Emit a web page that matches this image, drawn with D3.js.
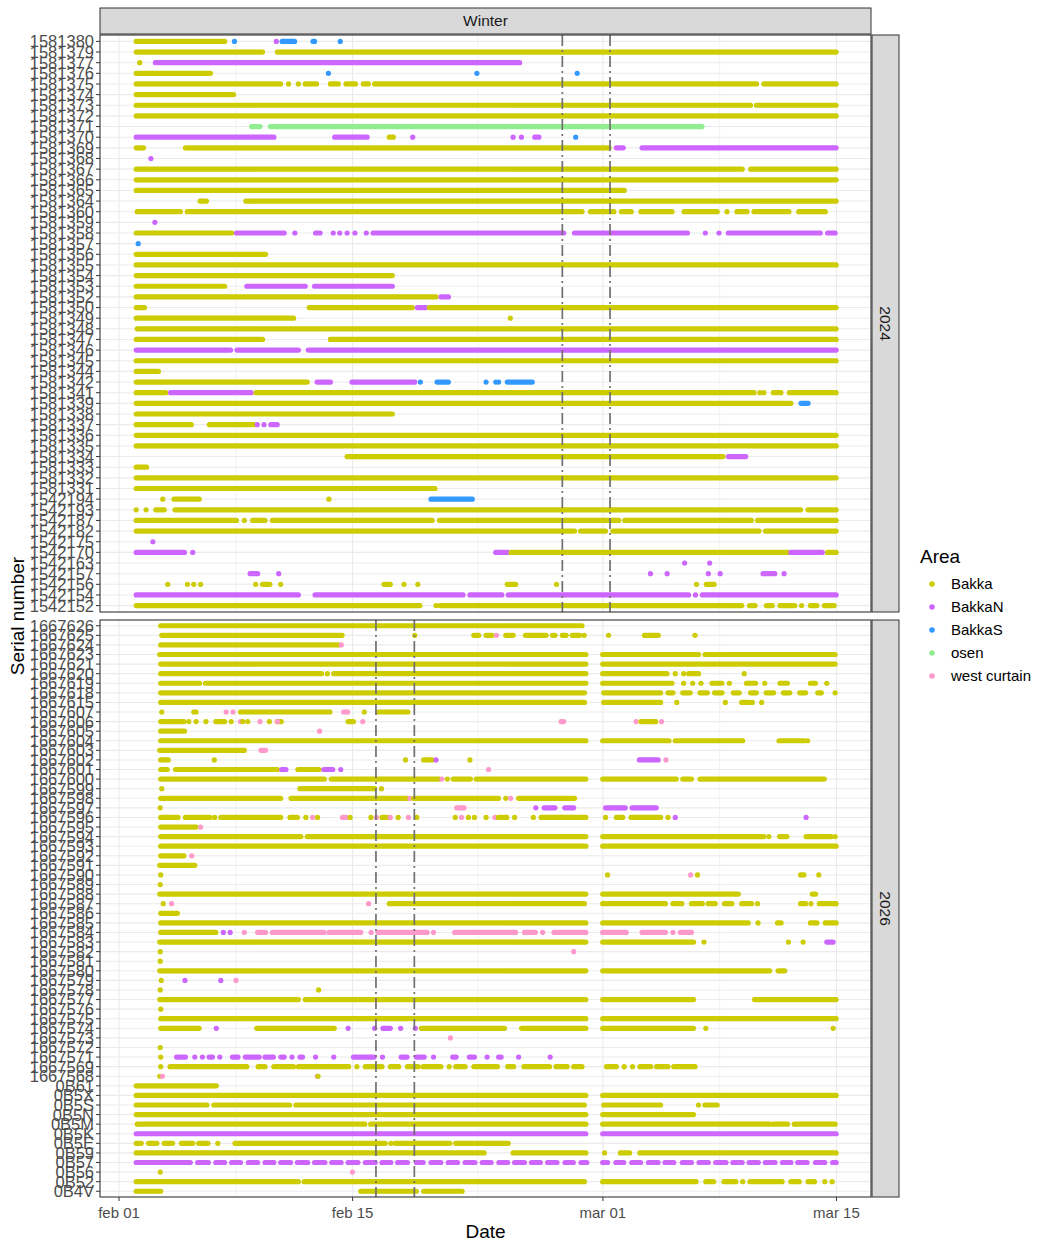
<!DOCTYPE html>
<html><head><meta charset="utf-8">
<script src="https://cdn.jsdelivr.net/npm/d3@7"></script>
<style>
html,body{margin:0;padding:0;background:#fff;}
svg{display:block;font-family:"Liberation Sans",Arial,sans-serif;}
</style></head><body>
<svg id="chart" width="1053" height="1250"></svg>
<script>
// ---------------- DATA ----------------
// Dates are stored as "Feb-day" numbers on a common 2024 axis (Feb 1 = 1, Mar 1 = 30, Mar 15 = 44).
const AREAS = ["Bakka","BakkaN","BakkaS","osen","west curtain"];
const AREA_CODES = {B:"Bakka", N:"BakkaN", S:"BakkaS", O:"osen", W:"west curtain"};
const AREA_COLORS = ["#CCCC00","#CC66FF","#3399FF","#90EE90","#FF99CC"];
const X_TICKS = ["2024-02-01","2024-02-15","2024-03-01","2024-03-15"];
const FACET_COL = "Winter";
const YEARS = ["2024","2026"];

const rows2024 = ["1581380","1581379","1581377","1581376","1581375","1581374","1581373","1581372","1581371","1581370",
"1581369","1581368","1581367","1581366","1581365","1581364","1581360","1581359","1581358","1581357","1581356","1581355",
"1581354","1581353","1581352","1581350","1581349","1581348","1581347","1581346","1581345","1581344","1581342","1581341",
"1581339","1581338","1581337","1581336","1581335","1581334","1581333","1581332","1581331","1542194","1542193","1542187",
"1542182","1542175","1542170","1542163","1542157","1542156","1542154","1542152"];

const rows2026 = ["1667626","1667625","1667624","1667623","1667621","1667620","1667619","1667618","1667615","1667607",
"1667606","1667605","1667604","1667603","1667602","1667601","1667600","1667599","1667598","1667597","1667596","1667595",
"1667594","1667593","1667592","1667591","1667590","1667589","1667588","1667587","1667586","1667585","1667584","1667583",
"1667582","1667581","1667580","1667579","1667578","1667577","1667576","1667575","1667574","1667573","1667572","1667571",
"1667569","1667568","0B61","0B5X","0B5S","0B5N","0B5M","0B5K","0B5E","0B59","0B57","0B56","0B52","0B4V"];

const vlines2024 = [27.57, 30.43];
const vlines2026 = [16.40, 18.70];

// [area code, start, end] (single detection: end omitted)
const segs2024 = {
"1581380":[["B",2.03,7.33],["S",7.92],["N",10.43],["S",10.78,11.52],["S",12.63,12.72],["S",14.26]],
"1581379":[["B",2.03,9.60],["B",10.49,43.98]],
"1581377":[["B",2.24],["N",3.18,25.01]],
"1581376":[["B",2.03,6.48],["S",13.55],["S",22.45],["S",28.46]],
"1581375":[["B",2.03,10.69],["B",11.16],["B",11.75],["B",12.16,12.84],["B",13.67,14.14],["B",14.61,15.17],["B",15.64,15.94],["B",16.32,39.21],["B",39.65,43.98]],
"1581374":[["B",2.03,7.86]],
"1581373":[["B",2.03,38.85],["B",39.2,43.98]],
"1581372":[["B",2.03,43.98]],
"1581371":[["O",8.95,9.45],["O",10.07,35.94]],
"1581370":[["N",2.03,10.28],["N",13.93,15.87],["B",17.2,17.44],["N",18.6],["N",24.62],["N",25.12],["N",25.92,26.16],["S",28.37]],
"1581369":[["B",2.03,2.47],["B",4.98,30.37],["N",30.81,31.22],["N",32.35,43.98]],
"1581368":[["N",2.91]],
"1581367":[["B",2.03,38.35],["B",38.86,43.98]],
"1581366":[["B",2.03,43.98]],
"1581365":[["B",2.03,31.28]],
"1581364":[["B",5.86,6.24],["B",8.60,43.98]],
"1581360":[["B",2.09,4.68],["B",5.09,21.68],["B",21.8,28.75],["B",29.25,30.66],["B",31.11,31.70],["B",32.28,34.14],["B",34.87,36.85],["B",37.44],["B",38.03,38.64],["B",39.06,41.15],["B",41.74,43.33]],
"1581359":[["N",3.15]],
"1581358":[["B",2.03,7.75],["N",8.04,10.9],["N",11.54],["N",12.78,13.05],["N",13.84],["N",14.23],["N",14.67],["N",15.14],["N",15.82],["N",16.23,27.65],["N",28.3,35.07],["N",36.14],["N",36.96],["N",37.52,43.03],["N",43.47,43.92]],
"1581357":[["S",2.15]],
"1581356":[["B",2.03,9.78]],
"1581355":[["B",2.03,43.98]],
"1581354":[["B",2.03,17.38]],
"1581353":[["B",2.03,7.33],["N",8.66,12.16],["N",12.72,17.38]],
"1581352":[["B",2.03,20.0],["N",20.3,20.74]],
"1581350":[["B",2.03,2.53],["B",12.4,18.58],["N",18.88,19.4],["B",19.6,43.98]],
"1581349":[["B",2.03,11.46],["B",24.45]],
"1581348":[["B",2.09,43.98]],
"1581347":[["B",2.03,9.60],["B",13.67,43.98]],
"1581346":[["N",2.03,7.69],["N",8.07,11.75],["N",12.34,43.98]],
"1581345":[["B",2.03,43.98]],
"1581344":[["B",2.03,3.36]],
"1581342":[["B",2.03,12.28],["N",12.87,13.67],["N",14.96,18.73],["S",19.06],["S",20.06,20.74],["S",23.0],["S",23.58],["S",23.75],["S",24.27,25.77]],
"1581341":[["B",2.03,3.8],["N",4.09,8.92],["B",9.21,39.06],["B",39.41],["B",39.65],["B",40.22,40.67],["B",41.18,43.98]],
"1581339":[["B",2.03,41.27],["S",41.88,42.3]],
"1581338":[["B",2.03,17.38]],
"1581337":[["B",2.03,5.33],["B",6.42,9.07],["N",9.28],["N",9.69],["N",10.1,10.48]],
"1581336":[["B",2.03,43.98]],
"1581335":[["B",2.03,43.98]],
"1581334":[["B",14.67,37.2],["N",37.52,38.56]],
"1581333":[["B",2.03,2.65]],
"1581332":[["B",2.03,43.98]],
"1581331":[["B",2.03,19.94]],
"1542194":[["B",3.62],["B",4.3,5.8],["B",13.58],["S",19.7,22.17]],
"1542193":[["B",2.03],["B",2.62],["B",3.21,3.71],["B",4.36,41.85],["B",42.3,43.98]],
"1542187":[["B",2.03,8.04],["B",8.51],["B",9.01,9.75],["B",10.19,19.76],["B",20.2,30.95],["B",31.31,38.9],["B",39.27,43.98]],
"1542182":[["B",2.03,28.3],["B",28.66,30.16],["B",30.6,39.36],["B",39.74,43.98]],
"1542175":[["N",3.03]],
"1542170":[["N",2.03,4.92],["N",5.42],["N",23.58,24.3],["B",24.5,41.12],["N",41.27,43.15],["B",43.47,43.98]],
"1542163":[["N",34.9],["N",36.4]],
"1542157":[["N",8.86,9.31],["N",10.57],["N",32.85],["N",33.85],["N",36.32],["N",37.03],["N",39.6,40.3],["N",40.86]],
"1542156":[["B",3.92],["B",5.1],["B",5.48],["B",5.89],["B",9.19],["B",9.6,10.04],["B",10.69],["B",16.88,17.26],["B",18.08],["B",18.91],["B",24.27,24.77],["B",27.22],["B",35.61],["B",36.2,36.67]],
"1542154":[["N",2.03,11.75],["N",12.75,21.62],["N",22.03,23.95],["N",24.33,35.14],["N",35.55],["N",35.96,43.98]],
"1542152":[["B",2.03,19.03],["B",20],["B",20.23,38.32],["B",38.79,39.12],["B",39.8,40.15],["B",40.62,41.5],["B",41.91],["B",42.44,42.83],["B",43.27,43.86]]
};

const segs2026 = {
"1667626":[["B",3.5,28.75]],
"1667625":[["B",3.56,14.37],["B",18.73],["B",22.27,22.56],["B",23.0,23.36],["W",23.62],["B",24.18,24.62],["B",25.36,26.6],["B",26.98,27.13],["B",27.57,27.8],["B",28.16,28.6],["B",28.88],["B",30.34],["B",32.49,33.32],["B",35.52]],
"1667624":[["B",3.5,14.17],["W",14.32]],
"1667623":[["B",3.44,28.98],["B",29.99,35.73],["B",36.12,43.92]],
"1667621":[["B",3.5,28.98],["B",29.99,43.92]],
"1667620":[["B",3.5,13.14],["B",13.49],["B",13.87,28.98],["B",29.99,33.84],["B",34.34],["B",34.84],["B",35.14,35.73],["B",38.47]],
"1667619":[["B",3.5,5.83],["B",6.18,28.98],["B",29.99,34.14],["B",34.84],["B",35.38],["B",35.88],["B",36.54,37.13],["B",37.58],["B",38.61,39.15],["B",39.7],["B",40.62,41.06],["B",42.44,42.74],["B",43.42]],
"1667618":[["B",3.5,28.9],["B",30.05,33.46],["B",33.9,34.2],["B",34.79,35.23],["B",35.82,36.26],["B",36.7,37.14],["B",37.82,38.17],["B",38.85,39.2],["B",39.79,40.23],["B",40.82,41.2],["B",41.8,42.15],["B",42.88,43.09],["B",43.92]],
"1667615":[["B",3.5,28.9],["B",30.05,33.46],["B",34.43],["B",37.34],["B",38.32,38.76],["B",38.96],["B",39.52]],
"1667607":[["B",3.56],["B",5.48,5.62],["W",7.42],["W",7.83],["B",8.28,13.64],["W",14.46,14.7],["B",15.7],["B",16.55,18.32]],
"1667606":[["B",3.5,4.89],["B",5.18],["B",5.62],["B",6.21],["B",6.8,7.33],["B",7.72],["W",8.28],["B",8.42],["B",8.72],["W",9.45],["B",10.01],["B",10.48,10.72],["W",10.5],["B",14.73,15.05],["W",15.61],["W",27.5,27.65],["W",31.99],["B",32.28,33.17],["W",33.52]],
"1667605":[["B",3.5,4.92],["W",13.02]],
"1667604":[["B",3.5,28.98],["B",29.99,33.96],["B",34.34,38.38],["B",40.56,42.06],["B",42.27]],
"1667603":[["B",3.44,8.51],["W",9.51,9.78]],
"1667602":[["B",3.5,3.95],["B",6.71],["B",18.17],["B",19.26,19.76],["N",20.0],["B",22.03],["N",32.19,33.31],["W",33.78]],
"1667601":[["B",3.5,3.89],["B",4.39,10.49],["N",10.75,11.0],["B",11.72,12.99],["N",13.28,13.81],["N",14.29],["W",23.15]],
"1667600":[["B",3.5,13.31],["B",13.72,20.2],["W",20.35],["B",20.68],["B",21.03,22.06],["B",22.41,28.98],["B",29.99,34.4],["B",34.79,35.31],["B",35.82,43.27]],
"1667599":[["B",3.56],["B",11.84,16.32],["B",16.73]],
"1667598":[["B",3.5,10.69],["B",11.31,18.29],["W",18.44],["B",18.64,23.74],["B",24.18],["W",24.47],["B",24.95,28.3]],
"1667597":[["B",3.47],["W",21.24,21.68],["N",25.98],["N",26.48,27.13],["N",27.72,28.25],["N",30.16,31.34],["N",31.75,33.2]],
"1667596":[["B",3.5,4.53],["B",4.98,6.45],["B",6.74],["B",7.1,10.69],["B",11.25,11.69],["B",12.2],["W",12.6],["B",12.9],["W",14.4,14.6],["B",14.85],["B",16.1],["W",16.43],["B",16.76,17.05],["W",17.26],["B",17.73],["W",18.35],["B",18.85],["B",21.15],["W",21.53],["B",21.94],["B",22.3],["B",23.0],["W",23.53],["B",23.74,24.24],["B",24.71],["B",25.83],["B",26.3,28.98],["B",30.16],["B",30.81,31.19],["B",31.69,33.46],["B",33.9],["N",34.34],["N",42.18]],
"1667595":[["B",3.5,5.62],["W",5.89]],
"1667594":[["B",3.5,11.9],["B",12.28,28.98],["B",29.99,39.65],["B",39.95],["B",40.59,41.03],["B",42.18,43.68],["B",43.92]],
"1667593":[["B",3.5,28.98],["B",29.99,43.98]],
"1667592":[["B",3.5,4.89],["W",5.36]],
"1667591":[["B",3.44,5.54]],
"1667590":[["B",3.5],["B",30.28],["W",35.26],["B",35.67],["B",41.85,42.05],["B",42.94]],
"1667589":[["B",3.47]],
"1667588":[["B",3.44,28.98],["B",29.99,38.12],["B",42.55,42.75]],
"1667587":[["B",3.65],["W",4.15],["W",15.96],["B",17.2,28.89],["B",29.99,33.75],["B",34.2,34.73],["B",35.31,35.96],["B",36.31,36.73],["B",37.29,37.73],["B",38.32,38.91],["B",39.27],["B",41.85,42.15],["B",42.47],["B",42.97,43.98]],
"1667586":[["B",3.5,4.5]],
"1667585":[["B",3.5,28.98],["B",29.99,38.57],["B",38.71],["B",39.3],["B",40.47,40.68],["B",42.44,42.83],["B",43.33,43.98]],
"1667584":[["B",3.5,6.8],["N",7.25],["N",7.66],["W",8.51],["W",9.31,9.78],["W",10.19,13.28],["W",13.58,15.49],["W",16.11],["W",16.52,19.47],["W",19.85],["W",21.12,24.77],["W",25.3,25.95],["W",26.39],["W",27.07,28.98],["W",29.99,31.4],["W",32.35,33.75],["W",34.2],["W",34.64,35.31]],
"1667583":[["B",3.44,28.98],["B",29.99,35.43],["B",36.06],["B",41.12],["B",42.0],["N",43.42,43.8]],
"1667582":[["B",3.47],["W",28.25]],
"1667581":[["B",3.47]],
"1667580":[["B",3.44,28.98],["B",29.99,40.0],["B",40.5,40.9]],
"1667579":[["B",3.53],["N",4.95],["N",7.1],["W",8.01]],
"1667578":[["B",3.47],["B",12.96]],
"1667577":[["B",3.44,11.75],["B",12.16,28.98],["B",29.99,35.43],["B",39.09,43.98]],
"1667576":[["B",3.5]],
"1667575":[["B",3.5,28.98],["B",29.99,43.98]],
"1667574":[["B",3.5,5.8],["N",6.83],["B",9.25,13.9],["N",14.73],["N",16.32],["N",16.82,17.26],["N",17.88],["N",18.76],["B",19.12,24.1],["B",25.13,28.98],["B",29.99,35.43],["B",36.17],["B",43.8]],
"1667573":[["W",20.86]],
"1667572":[["B",3.47]],
"1667571":[["B",3.5],["N",4.45,4.98],["N",5.54],["N",6.0],["N",6.4,6.6],["N",7.04],["N",7.8,8.13],["N",8.57,9.4],["N",9.75,10.25],["N",10.7,10.9],["N",11.37],["N",11.85,12.0],["N",12.78],["N",13.87],["N",15.05,16.29],["N",16.79],["N",17.91,18.26],["N",18.82,19.29],["N",19.85],["N",21.0,21.2],["N",22.0,22.3],["N",23.06],["N",23.75,23.9],["N",24.95],["N",26.84]],
"1667569":[["B",3.5],["B",4.06,8.66],["B",9.34,9.75],["B",10.28,11.46],["B",11.75,14.76],["B",15.26],["B",15.76,16.76],["B",17.26,17.76],["B",18.29,18.94],["B",19.24,20.29],["B",20.79],["B",21.18,21.74],["B",22.27,23.68],["B",24.3,24.65],["B",25.27,26.8],["B",27.19,27.86],["B",28.25,28.75],["B",30.22,30.81],["B",31.28],["B",31.78],["B",32.22,32.87],["B",33.22,33.9],["B",34.25,35.52]],
"1667568":[["B",3.45],["W",3.6],["W",12.88],["B",12.93]],
"0B61":[["B",2.03,6.83]],
"0B5X":[["B",2.03,28.98],["B",29.99,43.98]],
"0B5S":[["B",2.03,6.27],["B",6.68,11.22],["B",11.6,28.89],["B",30.05,33.46],["B",35.73],["B",36.12,36.85]],
"0B5N":[["B",2.03,28.98],["B",29.99,35.43]],
"0B5M":[["B",2.09,15.73],["B",16.08,28.98],["B",29.99,40.0],["B",40.22,41.06],["B",41.47,43.92]],
"0B5K":[["N",2.03,28.98],["N",29.99,43.98]],
"0B5E":[["B",2.03,2.33],["B",2.77,3.27],["B",3.71,4.21],["B",4.74,5.42],["B",5.77,6.33],["B",6.92],["B",7.95,16.96],["B",17.3],["B",17.56,20.83],["B",21.18,24.33]],
"0B59":[["B",2.03,22.88],["B",24.62,28.98],["B",30.1],["B",31.05,31.6],["B",32.22,43.98]],
"0B57":[["N",2.03,5.27],["N",5.71,6.36],["N",6.80,7.33],["N",7.75,8.28],["N",8.75,9.31],["N",9.75,10.28],["N",10.69,11.28],["N",11.69,12.31],["N",12.72,13.34],["N",13.75,14.31],["N",14.73,15.32],["N",15.76,16.35],["N",16.76,17.29],["N",17.7,18.29],["N",18.82,19.23],["N",19.7,20.29],["N",20.73,21.29],["N",21.74,22.33],["N",22.77,23.3],["N",23.77,24.3],["N",24.71,25.3],["N",25.72,26.25],["N",26.69,27.25],["N",27.73,28.23],["N",28.69,29.04],["N",29.99,30.28],["N",30.78,31.25],["N",31.73,32.26],["N",32.73,33.31],["N",33.72,34.25],["N",34.76,35.31],["N",35.76,36.32],["N",36.76,37.38],["N",37.79,38.35],["N",38.76,39.32],["N",39.73,40.32],["N",40.76,41.27],["N",41.68,42.24],["N",42.74,43.3],["N",43.77,43.98]],
"0B56":[["B",3.47],["W",14.99]],
"0B52":[["B",2.03,11.75],["B",12.1,28.89],["B",29.99,35.58],["B",36.17,36.64],["B",37.26,37.97],["B",38.38],["B",38.82,40.74],["B",41.27,41.77],["B",42.3,42.68],["B",43.3],["B",43.74]],
"0B4V":[["B",2.03,3.5],["B",15.49,18.82],["B",19.26,21.56]]
};

// ---------------- DRAW ----------------
const DAY = 864e5;
const BASE = Date.UTC(2024, 1, 1);
const toDate = d => new Date(BASE + (d - 1) * DAY);

const svg = d3.select("#chart");
const PL = 100, PR = 871;
const panels = [
  {year: YEARS[0], rows: rows2024, segs: segs2024, vlines: vlines2024, top: 35, bottom: 612},
  {year: YEARS[1], rows: rows2026, segs: segs2026, vlines: vlines2026, top: 620, bottom: 1197}
];

const x = d3.scaleUtc().domain([toDate(-0.14), toDate(46.07)]).range([PL, PR]);
const color = d3.scaleOrdinal().domain(AREAS).range(AREA_COLORS);
const tickDates = X_TICKS.map(s => new Date(s + "T00:00:00Z"));
const minorDates = d3.pairs(tickDates).map(([a, b]) => new Date((+a + +b) / 2));
const fmt = d => d3.utcFormat("%b %d")(d).toLowerCase();

const TXT = "#4D4D4D";

// top strip
svg.append("rect").attr("x", PL).attr("y", 8).attr("width", PR - PL).attr("height", 26)
  .attr("fill", "#D9D9D9").attr("stroke", "#333333").attr("stroke-width", 1);
svg.append("text").attr("x", (PL + PR) / 2).attr("y", 21).attr("dy", "0.35em")
  .attr("text-anchor", "middle").attr("font-size", 15.5).attr("fill", "#1A1A1A").text(FACET_COL);

panels.forEach(p => {
  const y = d3.scalePoint().domain(p.rows).range([p.top, p.bottom]).padding(0.6);
  const g = svg.append("g");
  g.append("rect").attr("x", PL).attr("y", p.top).attr("width", PR - PL).attr("height", p.bottom - p.top).attr("fill", "#fff");
  g.selectAll(".vminor").data(minorDates).join("line")
    .attr("x1", d => x(d)).attr("x2", d => x(d)).attr("y1", p.top).attr("y2", p.bottom)
    .attr("stroke", "#EBEBEB").attr("stroke-width", 0.6);
  g.selectAll(".vmajor").data(tickDates).join("line")
    .attr("x1", d => x(d)).attr("x2", d => x(d)).attr("y1", p.top).attr("y2", p.bottom)
    .attr("stroke", "#EBEBEB").attr("stroke-width", 1.1);
  g.selectAll(".hmajor").data(p.rows).join("line")
    .attr("x1", PL).attr("x2", PR).attr("y1", d => y(d)).attr("y2", d => y(d))
    .attr("stroke", "#EBEBEB").attr("stroke-width", 1.1);

  const flat = [];
  p.rows.forEach(r => (p.segs[r] || []).forEach(s => flat.push({row: r, area: AREA_CODES[s[0]], a: s[1], b: s.length > 2 ? s[2] : s[1]})));
  g.selectAll(".seg").data(flat).join("line")
    .attr("x1", d => x(toDate(d.a))).attr("x2", d => x(toDate(d.b)))
    .attr("y1", d => y(d.row)).attr("y2", d => y(d.row))
    .attr("stroke", d => color(d.area)).attr("stroke-width", 5.2).attr("stroke-linecap", "round");

  g.selectAll(".vl").data(p.vlines).join("line")
    .attr("x1", d => x(toDate(d))).attr("x2", d => x(toDate(d)))
    .attr("y1", p.top).attr("y2", p.bottom)
    .attr("stroke", "#707070").attr("stroke-width", 1.7).attr("stroke-dasharray", "11,4,2,4");

  g.append("rect").attr("x", PL).attr("y", p.top).attr("width", PR - PL).attr("height", p.bottom - p.top)
    .attr("fill", "none").attr("stroke", "#333333").attr("stroke-width", 1.1);

  const ya = svg.append("g");
  ya.selectAll("line").data(p.rows).join("line")
    .attr("x1", PL - 4).attr("x2", PL).attr("y1", d => y(d)).attr("y2", d => y(d))
    .attr("stroke", "#333333").attr("stroke-width", 1);
  ya.selectAll("text").data(p.rows).join("text")
    .attr("x", PL - 6).attr("y", d => y(d)).attr("dy", "0.36em")
    .attr("text-anchor", "end").attr("font-size", 16.5).attr("fill", TXT).text(d => d);

  svg.append("rect").attr("x", PR + 1).attr("y", p.top).attr("width", 27).attr("height", p.bottom - p.top)
    .attr("fill", "#D9D9D9").attr("stroke", "#333333").attr("stroke-width", 1);
  const cy = (p.top + p.bottom) / 2, cx = PR + 14.5;
  svg.append("text").attr("transform", `translate(${cx},${cy}) rotate(90)`)
    .attr("text-anchor", "middle").attr("dy", "0.35em").attr("font-size", 15.5).attr("fill", "#1A1A1A").text(p.year);
});

const xa = svg.append("g");
const axisY = panels[1].bottom;
xa.selectAll("line").data(tickDates).join("line")
  .attr("x1", d => x(d)).attr("x2", d => x(d)).attr("y1", axisY).attr("y2", axisY + 4)
  .attr("stroke", "#333333").attr("stroke-width", 1);
xa.selectAll("text").data(tickDates).join("text")
  .attr("x", d => x(d)).attr("y", axisY + 16).attr("dy", "0.35em")
  .attr("text-anchor", "middle").attr("font-size", 15).attr("fill", TXT).text(fmt);

svg.append("text").attr("x", (PL + PR) / 2).attr("y", 1238).attr("text-anchor", "middle")
  .attr("font-size", 19).attr("fill", "#000").text("Date");
svg.append("text").attr("transform", `translate(24,${(panels[0].top + panels[1].bottom) / 2}) rotate(-90)`)
  .attr("text-anchor", "middle").attr("font-size", 19).attr("fill", "#000").text("Serial number");

const lg = svg.append("g");
lg.append("text").attr("x", 920).attr("y", 563).attr("font-size", 19).attr("fill", "#000").text("Area");
AREAS.forEach((a, i) => {
  const yy = 584 + i * 23;
  lg.append("circle").attr("cx", 932).attr("cy", yy).attr("r", 2.8).attr("fill", color(a));
  lg.append("text").attr("x", 951).attr("y", yy).attr("dy", "0.35em").attr("font-size", 15).attr("fill", "#000").text(a);
});
</script>
</body></html>
